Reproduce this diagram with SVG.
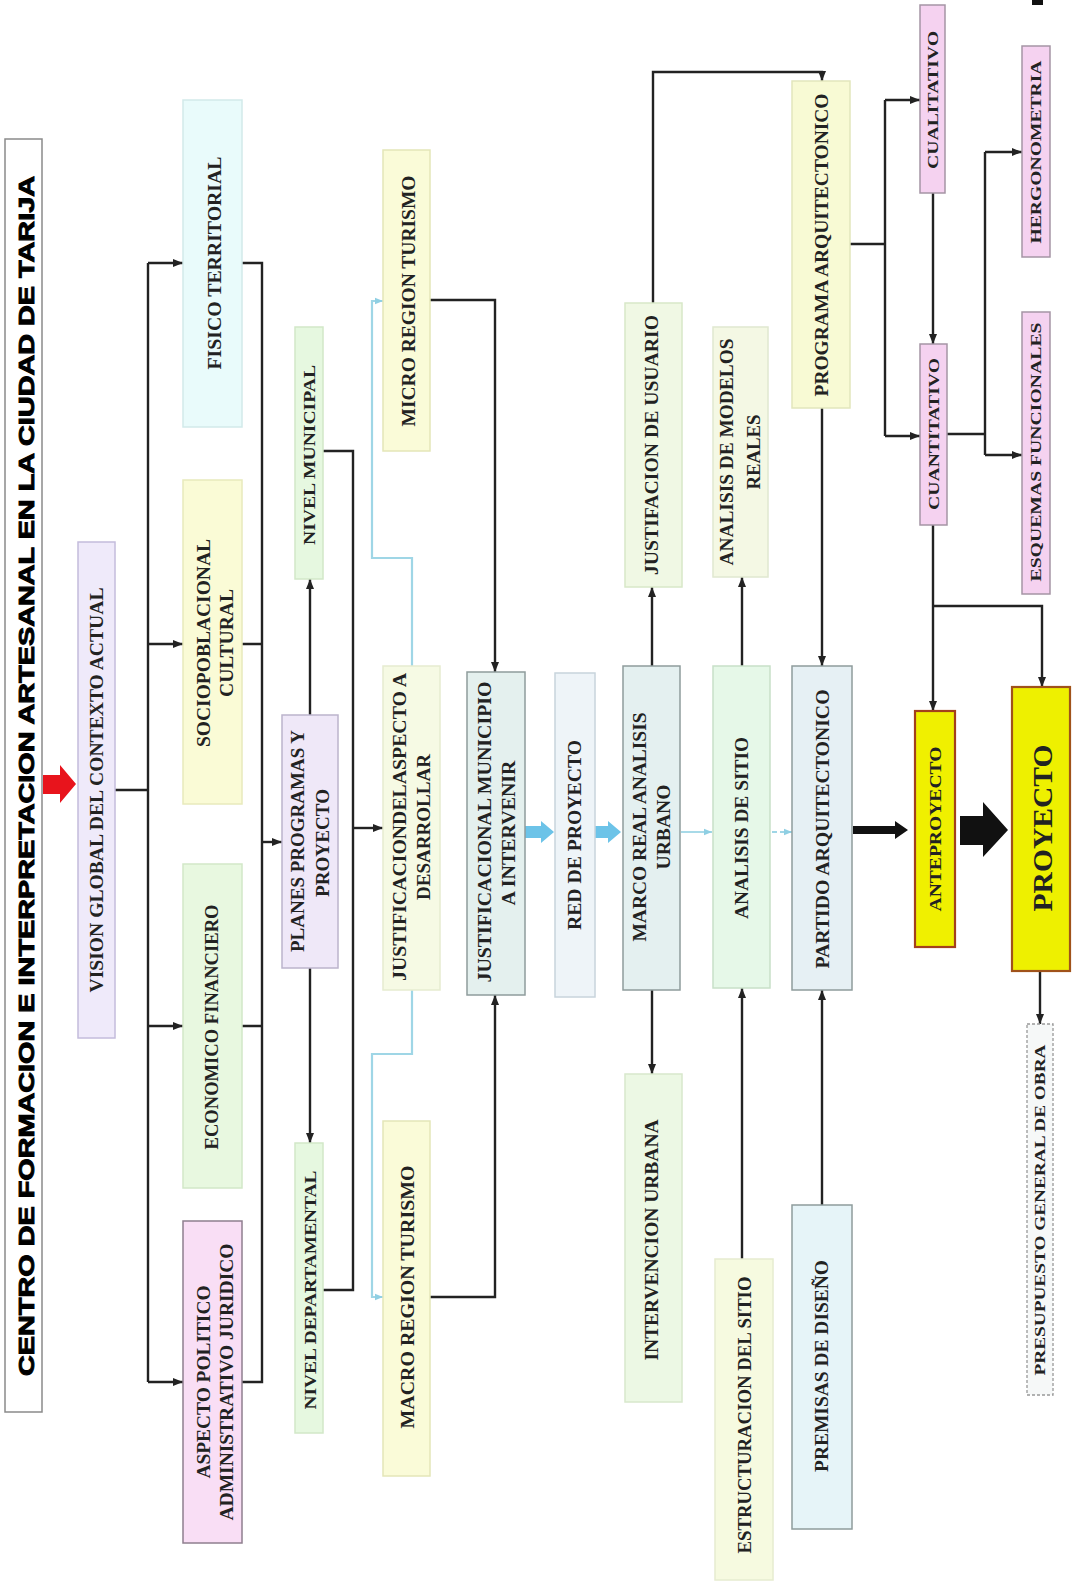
<svg xmlns="http://www.w3.org/2000/svg" width="1073" height="1582" viewBox="0 0 1073 1582">
<style>
.t{font-family:"Liberation Serif","Times New Roman",serif;font-weight:bold;fill:#222;text-anchor:middle;dominant-baseline:central}
.c{fill:none;stroke:#222;stroke-width:2.4}
.b{fill:none;stroke:#9fd6e6;stroke-width:2.2}
.box{stroke-width:1.5}
</style>
<defs>
<marker id="ah" viewBox="0 0 10 10" refX="10" refY="5" markerWidth="10" markerHeight="10" markerUnits="userSpaceOnUse" orient="auto"><path d="M0,1 L10,5 L0,9 Z" fill="#222"/></marker>
<marker id="bh" viewBox="0 0 10 10" refX="10" refY="5" markerWidth="8" markerHeight="8" markerUnits="userSpaceOnUse" orient="auto"><path d="M0,1 L10,5 L0,9 Z" fill="#8fcfe3"/></marker>
</defs>
<rect width="1073" height="1582" fill="#fff"/>

<g id="title">
<rect x="5" y="139" width="37" height="1273" fill="#fff" stroke="#8a8a8a" stroke-width="1.5"/>
<text transform="translate(26,776) rotate(-90)" text-anchor="middle" dominant-baseline="central" font-family="Liberation Sans, Arial, sans-serif" font-weight="bold" font-size="22" stroke="#000" stroke-width="0.9" fill="#000" textLength="1200" lengthAdjust="spacingAndGlyphs">CENTRO DE FORMACION E INTERPRETACION ARTESANAL EN LA CIUDAD DE TARIJA</text>
</g>
<rect x="1032" y="0" width="11" height="5" fill="#111"/>

<g id="connectors">
<path class="c" d="M115,790 H148 M148,263 V1382"/>
<path class="c" d="M148,263 H183" marker-end="url(#ah)"/>
<path class="c" d="M148,644 H183" marker-end="url(#ah)"/>
<path class="c" d="M148,1026 H183" marker-end="url(#ah)"/>
<path class="c" d="M148,1382 H183" marker-end="url(#ah)"/>
<path class="c" d="M242,263 H262 V1382 H242 M242,644 H262 M242,1026 H262"/>
<path class="c" d="M262,842 H282" marker-end="url(#ah)"/>
<path class="c" d="M310,715 V579" marker-end="url(#ah)"/>
<path class="c" d="M310,968 V1143" marker-end="url(#ah)"/>
<path class="c" d="M323,451 H353 V1290 H323"/>
<path class="c" d="M353,828 H383" marker-end="url(#ah)"/>
<path class="b" d="M412,666 V558 H372 V301 H383" marker-end="url(#bh)"/>
<path class="b" d="M412,990 V1054 H372 V1297 H383" marker-end="url(#bh)"/>
<path class="c" d="M430,300 H495 V672" marker-end="url(#ah)"/>
<path class="c" d="M430,1297 H495 V995" marker-end="url(#ah)"/>
<path d="M524,826 H541 V821 L554,832 L541,843 V838 H524 Z" fill="#6cc3e8"/>
<path d="M591,826 H608 V821 L621,832 L608,843 V838 H591 Z" fill="#6cc3e8"/>
<path class="c" d="M652,666 V587" marker-end="url(#ah)"/>
<path class="c" d="M652,990 V1074" marker-end="url(#ah)"/>
<path class="c" d="M653,303 V72 H822 V81" marker-end="url(#ah)"/>
<path d="M681,832 H712" fill="none" stroke="#9fd6e6" stroke-width="1.8" marker-end="url(#bh)"/>
<path d="M772,832 H792" fill="none" stroke="#9fd6e6" stroke-width="1.8" stroke-dasharray="5,3" marker-end="url(#bh)"/>
<path class="c" d="M742,666 V577" marker-end="url(#ah)"/>
<path class="c" d="M742,1259 V988" marker-end="url(#ah)"/>
<path class="c" d="M822,408 V666" marker-end="url(#ah)"/>
<path class="c" d="M822,1205 V990" marker-end="url(#ah)"/>
<path class="c" d="M850,244 H885 M885,100 V436"/>
<path class="c" d="M885,100 H920" marker-end="url(#ah)"/>
<path class="c" d="M885,436 H920" marker-end="url(#ah)"/>
<path class="c" d="M933,193 V344" marker-end="url(#ah)"/>
<path class="c" d="M947,434 H985 M985,152 V455"/>
<path class="c" d="M985,152 H1022" marker-end="url(#ah)"/>
<path class="c" d="M985,455 H1022" marker-end="url(#ah)"/>
<path class="c" d="M933,525 V711" marker-end="url(#ah)"/>
<path class="c" d="M933,606 H1042 V687" marker-end="url(#ah)"/>
<path class="c" d="M1040,971 V1024" marker-end="url(#ah)"/>
<path d="M853,826 H895 V821 L908,830 L895,839 V834 H853 Z" fill="#111"/>
<path d="M960,816 H983 V802 L1008,830 L983,857 V845 H960 Z" fill="#111"/>
<path d="M43,775 H60 V765 L76,784 L60,803 V794 H43 Z" fill="#e8141c"/>
</g>

<g id="n-vision"><rect class="box" x="78" y="542" width="37" height="496" fill="#efeafa" stroke="#c4bcdc"/>
<text class="t" font-size="18" transform="translate(97,790) rotate(-90)" textLength="405" lengthAdjust="spacingAndGlyphs">VISION GLOBAL DEL CONTEXTO ACTUAL</text></g>

<g id="n-fisico"><rect class="box" x="183" y="100" width="59" height="327" fill="#e9fbfb" stroke="#d2eaea"/>
<text class="t" font-size="18" transform="translate(215,263) rotate(-90)" textLength="213" lengthAdjust="spacingAndGlyphs">FISICO TERRITORIAL</text></g>

<g id="n-socio"><rect class="box" x="183" y="480" width="59" height="324" fill="#fafbd6" stroke="#e8eabc"/>
<text class="t" font-size="18" transform="translate(204,643) rotate(-90)" textLength="208" lengthAdjust="spacingAndGlyphs">SOCIOPOBLACIONAL</text>
<text class="t" font-size="18" transform="translate(227,643) rotate(-90)" textLength="108" lengthAdjust="spacingAndGlyphs">CULTURAL</text></g>

<g id="n-economico"><rect class="box" x="183" y="864" width="59" height="324" fill="#e8f8e0" stroke="#d2e8c8"/>
<text class="t" font-size="18" transform="translate(212,1027) rotate(-90)" textLength="245" lengthAdjust="spacingAndGlyphs">ECONOMICO FINANCIERO</text></g>

<g id="n-aspecto"><rect class="box" x="183" y="1221" width="59" height="322" fill="#f9def5" stroke="#8f7f8f"/>
<text class="t" font-size="18" transform="translate(204,1382) rotate(-90)" textLength="193" lengthAdjust="spacingAndGlyphs">ASPECTO POLITICO</text>
<text class="t" font-size="18" transform="translate(227,1382) rotate(-90)" textLength="277" lengthAdjust="spacingAndGlyphs">ADMINISTRATIVO JURIDICO</text></g>

<g id="n-planes"><rect class="box" x="282" y="715" width="56" height="253" fill="#efe8f8" stroke="#bcb4cc"/>
<text class="t" font-size="18" transform="translate(298,841) rotate(-90)" textLength="222" lengthAdjust="spacingAndGlyphs">PLANES PROGRAMAS Y</text>
<text class="t" font-size="18" transform="translate(323,843) rotate(-90)" textLength="108" lengthAdjust="spacingAndGlyphs">PROYECTO</text></g>

<g id="n-municipal"><rect class="box" x="295" y="327" width="28" height="252" fill="#e6f8e0" stroke="#d2e8c8"/>
<text class="t" font-size="16" transform="translate(309,455) rotate(-90)" textLength="180" lengthAdjust="spacingAndGlyphs">NIVEL MUNICIPAL</text></g>

<g id="n-departamental"><rect class="box" x="295" y="1143" width="28" height="290" fill="#e6f8e0" stroke="#d2e8c8"/>
<text class="t" font-size="16" transform="translate(310,1290) rotate(-90)" textLength="239" lengthAdjust="spacingAndGlyphs">NIVEL DEPARTAMENTAL</text></g>

<g id="n-micro"><rect class="box" x="383" y="150" width="47" height="301" fill="#fafbd8" stroke="#e4e6b8"/>
<text class="t" font-size="18" transform="translate(409,301) rotate(-90)" textLength="251" lengthAdjust="spacingAndGlyphs">MICRO REGION TURISMO</text></g>

<g id="n-macro"><rect class="box" x="383" y="1121" width="47" height="355" fill="#fafbd8" stroke="#e4e6b8"/>
<text class="t" font-size="18" transform="translate(408,1297) rotate(-90)" textLength="263" lengthAdjust="spacingAndGlyphs">MACRO REGION  TURISMO</text></g>

<g id="n-justaspecto"><rect class="box" x="383" y="666" width="57" height="324" fill="#f6fae4" stroke="#e6ecd0"/>
<text class="t" font-size="18" transform="translate(400,827) rotate(-90)" textLength="308" lengthAdjust="spacingAndGlyphs">JUSTIFICACIONDELASPECTO A</text>
<text class="t" font-size="18" transform="translate(424,827) rotate(-90)" textLength="146" lengthAdjust="spacingAndGlyphs">DESARROLLAR</text></g>

<g id="n-justmuni"><rect class="box" x="467" y="672" width="58" height="323" fill="#e4f0ee" stroke="#8f9c9c"/>
<text class="t" font-size="18" transform="translate(485,832) rotate(-90)" textLength="301" lengthAdjust="spacingAndGlyphs">JUSTIFICACIONAL MUNICIPIO</text>
<text class="t" font-size="18" transform="translate(509,833) rotate(-90)" textLength="145" lengthAdjust="spacingAndGlyphs">A INTERVENIR</text></g>

<g id="n-red"><rect class="box" x="555" y="673" width="40" height="324" fill="#eef4f8" stroke="#c8d4dc"/>
<text class="t" font-size="18" transform="translate(575,835) rotate(-90)" textLength="190" lengthAdjust="spacingAndGlyphs">RED DE PROYECTO</text></g>

<g id="n-marco"><rect class="box" x="623" y="666" width="57" height="324" fill="#e4f0f0" stroke="#8f9c9c"/>
<text class="t" font-size="18" transform="translate(640,827) rotate(-90)" textLength="229" lengthAdjust="spacingAndGlyphs">MARCO REAL ANALISIS</text>
<text class="t" font-size="18" transform="translate(664,827) rotate(-90)" textLength="85" lengthAdjust="spacingAndGlyphs">URBANO</text></g>

<g id="n-usuario"><rect class="box" x="625" y="303" width="57" height="284" fill="#f0f8e4" stroke="#d8e8c8"/>
<text class="t" font-size="18" transform="translate(652,445) rotate(-90)" textLength="260" lengthAdjust="spacingAndGlyphs">JUSTIFACION DE USUARIO</text></g>

<g id="n-intervencion"><rect class="box" x="625" y="1074" width="57" height="328" fill="#ecf8e4" stroke="#d8e8cc"/>
<text class="t" font-size="18" transform="translate(652,1240) rotate(-90)" textLength="241" lengthAdjust="spacingAndGlyphs">INTERVENCION URBANA</text></g>

<g id="n-modelos"><rect class="box" x="713" y="327" width="55" height="250" fill="#f4f8e4" stroke="#e0e8d0"/>
<text class="t" font-size="18" transform="translate(727,452) rotate(-90)" textLength="227" lengthAdjust="spacingAndGlyphs">ANALISIS DE MODELOS</text>
<text class="t" font-size="18" transform="translate(754,452) rotate(-90)" textLength="75" lengthAdjust="spacingAndGlyphs">REALES</text></g>

<g id="n-sitio"><rect class="box" x="713" y="666" width="57" height="322" fill="#e6f8e8" stroke="#c8e0c8"/>
<text class="t" font-size="18" transform="translate(742,828) rotate(-90)" textLength="182" lengthAdjust="spacingAndGlyphs">ANALISIS DE SITIO</text></g>

<g id="n-estructuracion"><rect class="box" x="715" y="1259" width="58" height="321" fill="#f6fae0" stroke="#e6ecd0"/>
<text class="t" font-size="18" transform="translate(745,1415) rotate(-90)" textLength="277" lengthAdjust="spacingAndGlyphs">ESTRUCTURACION DEL SITIO</text></g>

<g id="n-programa"><rect class="box" x="792" y="81" width="58" height="327" fill="#f8fad4" stroke="#e2e6bc"/>
<text class="t" font-size="18" transform="translate(822,245) rotate(-90)" textLength="303" lengthAdjust="spacingAndGlyphs">PROGRAMA ARQUITECTONICO</text></g>

<g id="n-partido"><rect class="box" x="792" y="666" width="60" height="324" fill="#e6f0f4" stroke="#8f9c9c"/>
<text class="t" font-size="18" transform="translate(823,829) rotate(-90)" textLength="279" lengthAdjust="spacingAndGlyphs">PARTIDO ARQUITECTONICO</text></g>

<g id="n-premisas"><rect class="box" x="792" y="1205" width="60" height="324" fill="#e6f4f8" stroke="#8f9c9c"/>
<text class="t" font-size="18" transform="translate(822,1366) rotate(-90)" textLength="212" lengthAdjust="spacingAndGlyphs">PREMISAS DE DISEÑO</text></g>

<g id="n-cualitativo"><rect class="box" x="920" y="5" width="25" height="188" fill="#f5d2f0" stroke="#a595a5"/>
<text class="t" font-size="15" transform="translate(933,100) rotate(-90)" textLength="138" lengthAdjust="spacingAndGlyphs">CUALITATIVO</text></g>

<g id="n-cuantitativo"><rect class="box" x="920" y="344" width="27" height="181" fill="#f5d2f0" stroke="#a595a5"/>
<text class="t" font-size="15" transform="translate(934,434) rotate(-90)" textLength="152" lengthAdjust="spacingAndGlyphs">CUANTITATIVO</text></g>

<g id="n-hergonometria"><rect class="box" x="1022" y="46" width="28" height="211" fill="#f5d2f0" stroke="#a595a5"/>
<text class="t" font-size="15" transform="translate(1036,152) rotate(-90)" textLength="183" lengthAdjust="spacingAndGlyphs">HERGONOMETRIA</text></g>

<g id="n-esquemas"><rect class="box" x="1022" y="312" width="28" height="282" fill="#f5d2f0" stroke="#a595a5"/>
<text class="t" font-size="15" transform="translate(1036,452) rotate(-90)" textLength="259" lengthAdjust="spacingAndGlyphs">ESQUEMAS FUNCIONALES</text></g>

<g id="n-anteproyecto"><rect x="915" y="711" width="40" height="236" fill="#f0f000" stroke="#a3401c" stroke-width="2.2"/>
<text class="t" font-size="17" transform="translate(935,829) rotate(-90)" textLength="165" lengthAdjust="spacingAndGlyphs" fill="#333">ANTEPROYECTO</text></g>

<g id="n-proyecto"><rect x="1012" y="687" width="58" height="284" fill="#eef000" stroke="#a0521a" stroke-width="2.2"/>
<text class="t" font-size="28" transform="translate(1042,828) rotate(-90)" textLength="167" lengthAdjust="spacingAndGlyphs">PROYECTO</text></g>

<g id="n-presupuesto"><rect x="1027" y="1024" width="26" height="371" fill="#f6f8f8" stroke="#999" stroke-width="1.3" stroke-dasharray="3,2"/>
<text class="t" font-size="15" transform="translate(1040,1210) rotate(-90)" textLength="331" lengthAdjust="spacingAndGlyphs">PRESUPUESTO GENERAL DE OBRA</text></g>
</svg>
